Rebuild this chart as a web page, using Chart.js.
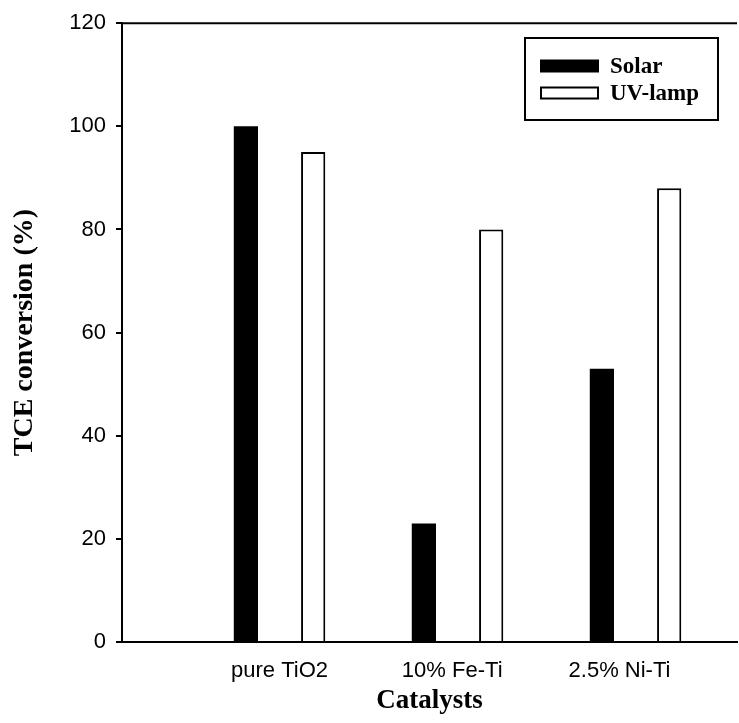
<!DOCTYPE html>
<html>
<head>
<meta charset="utf-8">
<script src="https://cdn.jsdelivr.net/npm/chart.js@4.4.1/dist/chart.umd.min.js"></script>
<style>
  html, body { margin: 0; padding: 0; background: #fff; }
  canvas { display: block; }
</style>
</head>
<body>
<canvas id="chart" width="739" height="723"></canvas>
<script>
// Catalyst names and TCE conversion (%) under each light source
const categories = ['pure TiO2', '10% Fe-Ti', '2.5% Ni-Ti'];
const solar = [100, 23, 53];
const uvLamp = [95, 80, 88];
const yTicks = [0, 20, 40, 60, 80, 100, 120];

const sansFont = 'Liberation Sans, Arial, Helvetica, sans-serif';
const serifFont = 'Liberation Serif, Times New Roman, serif';

// Small shifts of the category labels relative to their bar groups (axis units)
const labelShift = [0, -0.03, -0.09];
// Bar ruler takes the closest tick spacing (0.94 units), so scale the group width by it
const groupFraction = 0.756 / 0.94;

// Closes the top of the plot frame
const frameTop = {
  id: 'frameTop',
  afterDraw(chart) {
    const { ctx, chartArea } = chart;
    ctx.save();
    ctx.strokeStyle = '#000';
    ctx.lineWidth = 2;
    ctx.beginPath();
    ctx.moveTo(chartArea.left, chartArea.top);
    ctx.lineTo(chartArea.right, chartArea.top);
    ctx.stroke();
    ctx.restore();
  }
};

// Boxed legend inside the upper-right corner of the plot
const boxedLegend = {
  id: 'boxedLegend',
  afterDraw(chart, args, opts) {
    const { ctx } = chart;
    const { x, y, w, h } = opts;
    ctx.save();
    ctx.fillStyle = '#fff';
    ctx.fillRect(x, y, w, h);
    ctx.strokeStyle = '#000';
    ctx.lineWidth = 2;
    ctx.strokeRect(x, y, w, h);
    ctx.font = 'bold 23px ' + serifFont;
    ctx.textBaseline = 'middle';
    chart.data.datasets.forEach((ds, i) => {
      const cy = y + 28 + i * 27;
      const sx = x + 15, sw = 59, sh = 13;
      ctx.fillStyle = ds.backgroundColor;
      ctx.fillRect(sx, cy - sh / 2, sw, sh);
      if (ds.borderWidth) {
        ctx.lineWidth = 2;
        ctx.strokeStyle = ds.borderColor;
        ctx.strokeRect(sx + 1, cy - sh / 2 + 1, sw - 2, sh - 2);
      }
      ctx.fillStyle = '#000';
      ctx.fillText(ds.label, x + 85, cy + 1);
    });
    ctx.restore();
  }
};

new Chart(document.getElementById('chart'), {
  type: 'bar',
  data: {
    datasets: [
      {
        label: 'Solar',
        data: solar.map((v, i) => ({ x: i + 1, y: v })),
        backgroundColor: '#000',
        borderColor: '#000',
        borderWidth: 0
      },
      {
        label: 'UV-lamp',
        data: uvLamp.map((v, i) => ({ x: i + 1, y: v })),
        backgroundColor: '#fff',
        borderColor: '#000',
        borderWidth: 2
      }
    ]
  },
  options: {
    responsive: false,
    animation: false,
    categoryPercentage: groupFraction,
    barPercentage: 0.36,
    layout: { padding: { left: 0, right: 2, top: 21, bottom: 0 } },
    plugins: {
      legend: { display: false },
      tooltip: { enabled: false },
      boxedLegend: { x: 525, y: 38, w: 193, h: 82 }
    },
    scales: {
      x: {
        type: 'linear',
        offset: false,
        min: 0.115,
        max: 3.57,
        afterBuildTicks: s => {
          s.ticks = categories.map((c, i) => ({ value: i + 1 + labelShift[i] }));
        },
        afterFit: s => { s.height = 81; },
        ticks: {
          callback: v => categories[Math.round(v) - 1] ?? '',
          font: { family: sansFont, size: 22 },
          color: '#000',
          padding: 8,
          maxRotation: 0,
          autoSkip: false
        },
        grid: { display: false },
        border: { display: true, color: '#000', width: 2 },
        title: {
          display: true,
          text: 'Catalysts',
          color: '#000',
          font: { family: serifFont, size: 27, weight: 'bold' },
          padding: { top: 0, bottom: 6 }
        }
      },
      y: {
        min: 0,
        max: 120,
        afterBuildTicks: s => { s.ticks = yTicks.map(v => ({ value: v })); },
        afterFit: s => { s.width = 122; },
        ticks: {
          font: { family: sansFont, size: 22 },
          color: '#000',
          padding: 10
        },
        grid: { drawOnChartArea: false, drawTicks: true, tickLength: 6, color: '#000', lineWidth: 2 },
        border: { display: true, color: '#000', width: 2 },
        title: {
          display: true,
          text: 'TCE conversion (%)',
          color: '#000',
          font: { family: serifFont, size: 28, weight: 'bold' },
          padding: { top: 8, bottom: 0 }
        }
      }
    }
  },
  plugins: [frameTop, boxedLegend]
});
</script>
</body>
</html>
